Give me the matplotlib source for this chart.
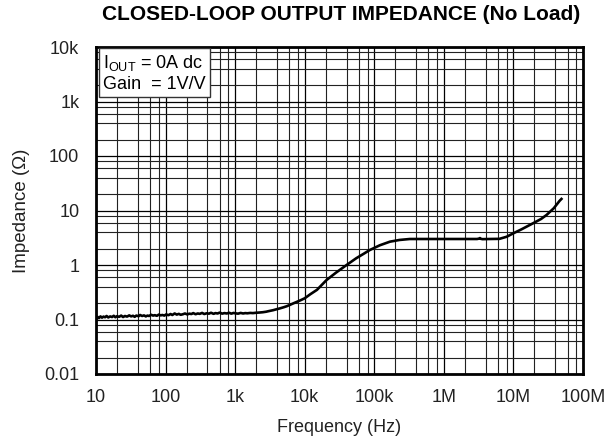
import matplotlib
matplotlib.use("Agg")
import matplotlib.pyplot as plt
from matplotlib.ticker import LogLocator, FixedLocator, NullFormatter

plt.rcParams['font.family'] = ['Liberation Sans', 'DejaVu Sans']

freq_hz = [10, 10.5, 11, 11.6, 12.2, 12.8, 13.5, 14.2, 15, 16, 17, 18, 19, 20, 21.5, 23, 24.5, 26,
           28, 30, 32, 34, 36, 38, 41, 43, 46, 49, 52, 55, 58, 62, 66, 70, 75, 80, 85, 90, 96,
           102, 110, 118, 125, 135, 145, 155, 165, 178, 190, 205, 220, 235, 250, 270, 290, 310,
           335, 360, 390, 420, 450, 490, 520, 560, 600, 650, 700, 760, 820, 880, 950,
           1000, 1100, 1200, 1300, 1400, 1500, 1650, 1800, 2000, 2200, 2500, 2800, 3000, 3500,
           4000, 4400, 5000, 5500, 6100, 7000, 8000, 9000, 10000, 12000, 15000, 20600, 28000,
           40000, 55000, 70000, 86000, 120000, 168000, 230000, 324000, 500000, 1000000,
           2000000, 3000000, 3200000, 3300000, 3400000, 3600000, 4500000, 6300000, 8000000,
           9900000, 13000000, 19000000, 25000000, 30000000, 38000000, 46000000, 49000000]
impedance_ohm = [0.100, 0.112, 0.106, 0.114, 0.108, 0.113, 0.110, 0.116, 0.109, 0.114, 0.111, 0.117,
                 0.110, 0.115, 0.112, 0.118, 0.111, 0.116, 0.113, 0.119, 0.114, 0.117, 0.112, 0.118,
                 0.115, 0.121, 0.116, 0.119, 0.114, 0.118, 0.116, 0.122, 0.118, 0.120, 0.117,
                 0.123, 0.119, 0.121, 0.118, 0.124, 0.120, 0.126, 0.121, 0.129, 0.123, 0.127,
                 0.122, 0.125, 0.129, 0.124, 0.128, 0.126, 0.131, 0.125, 0.129, 0.127, 0.132,
                 0.126, 0.130, 0.128, 0.133, 0.127, 0.131, 0.129, 0.134, 0.128, 0.131, 0.129,
                 0.133, 0.128, 0.132, 0.130, 0.128, 0.132, 0.129, 0.131, 0.130, 0.132, 0.131,
                 0.133, 0.134, 0.136, 0.139, 0.142, 0.148,
                 0.155, 0.160, 0.168, 0.175, 0.185, 0.200, 0.215, 0.230, 0.245, 0.29, 0.35, 0.53,
                 0.72, 1.0, 1.33, 1.6, 1.88, 2.3, 2.68, 2.88, 3.0, 3.0, 3.0,
                 3.0, 3.0, 3.05, 3.12, 3.02, 2.98, 3.0, 3.02, 3.3,
                 3.8, 4.5, 5.8, 7.0, 8.3, 11.0, 15.0, 16.3]

x_ticks = [10, 100, 1e3, 1e4, 1e5, 1e6, 1e7, 1e8]
x_labels = ['10', '100', '1k', '10k', '100k', '1M', '10M', '100M']
y_ticks = [0.01, 0.1, 1, 10, 100, 1e3, 1e4]
y_labels = ['0.01', '0.1', '1', '10', '100', '1k', '10k']

fig = plt.figure(figsize=(6.08, 4.42), dpi=100)
ax = fig.add_axes([96/608, 1-374/442, (583-96)/608, (374-47)/442])
ax.set_xscale('log')
ax.set_yscale('log')
ax.set_xlim(10, 1e8)
ax.set_ylim(0.01, 1e4)

ax.xaxis.set_major_locator(FixedLocator(x_ticks))
ax.yaxis.set_major_locator(FixedLocator(y_ticks))
ax.xaxis.set_minor_locator(LogLocator(base=10, subs=(2, 4, 6, 8), numticks=20))
ax.yaxis.set_minor_locator(LogLocator(base=10, subs=(2, 4, 6, 8), numticks=20))
ax.xaxis.set_minor_formatter(NullFormatter())
ax.yaxis.set_minor_formatter(NullFormatter())
ax.set_xticklabels(x_labels)
ax.set_yticklabels(y_labels)
ax.tick_params(which='both', length=0, labelsize=13, colors='#222222')
ax.tick_params(axis='x', pad=11)
ax.tick_params(axis='y', pad=12)

ax.grid(True, which='major', color='black', linewidth=0.9)
ax.grid(True, which='minor', color='#222222', linewidth=0.8)
ax.set_axisbelow(True)
for s in ax.spines.values():
    s.set_linewidth(2.0)
    s.set_color('black')

ax.plot(freq_hz, impedance_ohm, color='black', linewidth=1.9, zorder=3)

ax.text(0.0143, 0.983, '$\\mathregular{I_{OUT}}$ = 0A dc\nGain  = 1V/V', transform=ax.transAxes,
        ha='left', va='top', fontsize=13, linespacing=1.25, zorder=5,
        bbox=dict(boxstyle='square,pad=0.22', facecolor='white', edgecolor='#333333', linewidth=1.0))

ax.set_xlabel('Frequency (Hz)', fontsize=13, color='#222222', labelpad=9)
ax.set_ylabel('Impedance (\u03a9)', fontsize=13.5, color='#222222', labelpad=10)
fig.text(341/608, 1-14/442, 'CLOSED-LOOP OUTPUT IMPEDANCE (No Load)', ha='center', va='center',
         fontsize=15, fontweight='bold')

fig.savefig('out.png', dpi=100)
